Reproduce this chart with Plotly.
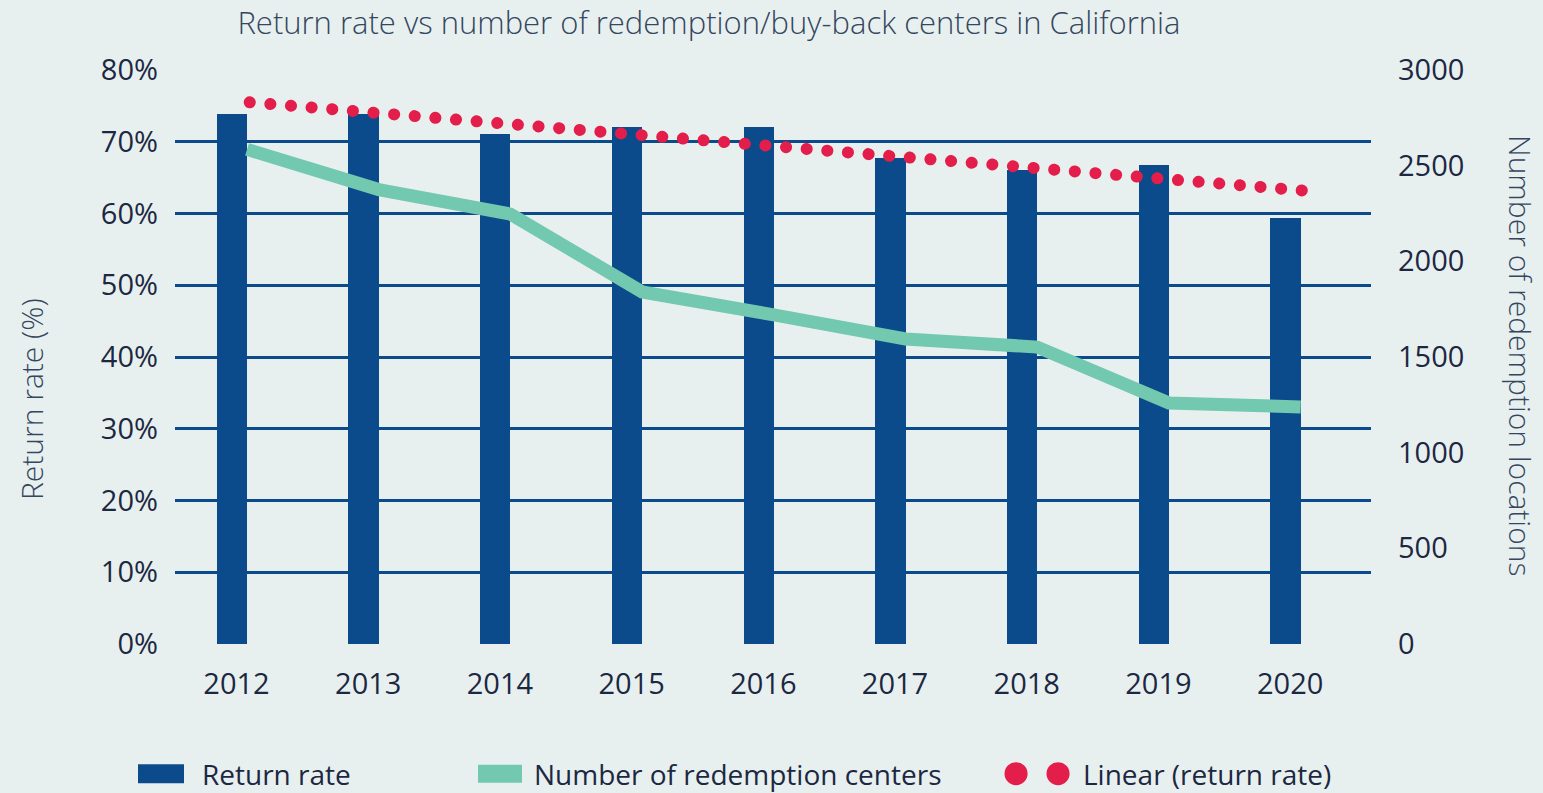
import plotly.graph_objects as go

years = ["2012", "2013", "2014", "2015", "2016", "2017", "2018", "2019", "2020"]
return_rate = [73.9, 73.9, 71.1, 72.0, 72.0, 67.7, 66.0, 66.8, 59.4]
redemption_centers = [2585, 2375, 2247, 1840, 1720, 1594, 1552, 1260, 1239]
trend_ends = [75.5, 63.2]          # read at the first and last year
left_ticks = [0, 10, 20, 30, 40, 50, 60, 70, 80]
left_tick_labels = ["0%", "10%", "20%", "30%", "40%", "50%", "60%", "70%", "80%"]
right_ticks = [0, 500, 1000, 1500, 2000, 2500, 3000]

BAR = "#0c4b8b"
GREEN = "#72c9b0"
RED = "#e31e4b"
BG = "#e8f0ef"
TXT = "#1c2842"
TITLE_TXT = "#34475f"
FONT = "Open Sans"

idx = list(range(len(years)))
line_x = [i + 0.08 for i in idx]
trend_x = [idx[0] + 0.1, idx[-1] + 0.1]

fig = go.Figure()
fig.add_trace(go.Bar(
    x=idx, y=return_rate, name="Return rate",
    marker=dict(color=BAR, line=dict(width=0)),
    width=0.23, offset=-0.15, legend="legend",
))
fig.add_trace(go.Scatter(
    x=trend_x, y=trend_ends, name="Linear (return rate)", mode="lines",
    line=dict(color=RED, width=12, dash="0.1px,20.6px"), legend="legend3",
))
fig.add_trace(go.Scatter(
    x=line_x, y=redemption_centers, name="Number of redemption centers",
    mode="lines", yaxis="y2",
    line=dict(color=GREEN, width=13), legend="legend2",
))

tickfont = dict(family=FONT, size=29, color=TXT, weight=400)
legfont = dict(family=FONT, size=28, color=TXT, weight=400)
titlefont = dict(family=FONT, size=30, color=TITLE_TXT, weight=300)

LEG_Y = (644 - 774) / 574

fig.update_layout(
    width=1543, height=793,
    margin=dict(l=175, r=172, t=70, b=149, autoexpand=False),
    paper_bgcolor=BG, plot_bgcolor=BG,
    font=dict(family=FONT, color=TXT, weight=400),
    title=dict(
        text="Return rate vs number of redemption/buy-back centers in California",
        x=709 / 1543, xanchor="center", y=1 - 23 / 793, yanchor="middle",
        font=dict(family=FONT, size=31, color=TITLE_TXT, weight=300),
    ),
    xaxis=dict(
        range=[-0.467, 8.614], tickmode="array", tickvals=idx, ticktext=years,
        showgrid=False, zeroline=False, showline=False, ticks="",
        tickfont=tickfont, ticklabelstandoff=20, automargin=False,
    ),
    yaxis=dict(
        range=[0, 80], tickmode="array", tickvals=left_ticks,
        ticktext=left_tick_labels,
        showgrid=True, gridcolor=BAR, gridwidth=3, zeroline=False,
        showline=False, ticks="", tickfont=tickfont, ticklabelstandoff=16,
        automargin=False,
    ),
    yaxis2=dict(
        range=[0, 3000], tickmode="array", tickvals=right_ticks,
        overlaying="y", side="right", showgrid=False, zeroline=False,
        showline=False, ticks="", tickfont=tickfont, ticklabelstandoff=26,
        automargin=False,
    ),
    legend=dict(orientation="h", x=(162 - 175) / 1196, xanchor="left", y=LEG_Y,
                yanchor="middle", font=legfont, bgcolor="rgba(0,0,0,0)"),
    legend2=dict(orientation="h", x=(494 - 175) / 1196, xanchor="left", y=LEG_Y,
                 yanchor="middle", font=legfont, bgcolor="rgba(0,0,0,0)"),
    legend3=dict(orientation="h", x=(1043 - 175) / 1196, xanchor="left", y=LEG_Y,
                 yanchor="middle", font=legfont, bgcolor="rgba(0,0,0,0)"),
    annotations=[
        dict(text="Return rate (%)", xref="paper", yref="paper",
             x=(31 - 175) / 1196, y=(644 - 399) / 574, textangle=-90,
             showarrow=False, xanchor="center", yanchor="middle",
             font=titlefont),
        dict(text="Number of redemption locations", xref="paper", yref="paper",
             x=(1521 - 175) / 1196, y=(644 - 355) / 574, textangle=90,
             showarrow=False, xanchor="center", yanchor="middle",
             font=titlefont),
    ],
    showlegend=True,
    bargap=0,
)

post = """
document.documentElement.style.margin = '0';
document.body.style.margin = '0';
document.body.style.overflow = 'hidden';
var gd = document.getElementById('{plot_id}');
function norm(s){ return (s || '').replace(/\\s/g, ''); }
function fixDots(){
  gd.querySelectorAll('g.infolayer > g[class^="legend"] [clip-path]').forEach(function(e){
    e.removeAttribute('clip-path');
  });
  gd.querySelectorAll('path.js-line').forEach(function(p){
    var s = norm(p.style.stroke);
    var inLegend = !!p.closest('.legendlines');
    if (s === 'rgb(227,30,75)') {
      p.style.strokeLinecap = 'round';
      if (inLegend) {
        p.setAttribute('d', 'M-27,0h43');
        p.style.strokeWidth = '23px';
        p.style.strokeDasharray = '0.1px,41.9px';
      }
    } else if (s === 'rgb(114,201,176)' && inLegend) {
      p.setAttribute('d', 'M-16,0h44');
      p.style.strokeWidth = '18px';
    }
  });
  gd.querySelectorAll('g.legendpoints path').forEach(function(p){
    if (norm(p.style.fill) === 'rgb(12,75,139)') {
      p.setAttribute('d', 'M-44,9.5H2V-9.5H-44Z');
    }
  });
}
fixDots();
gd.on('plotly_afterplot', fixDots);
"""

fig.write_html("out.html", post_script=post, config={"displayModeBar": False})
